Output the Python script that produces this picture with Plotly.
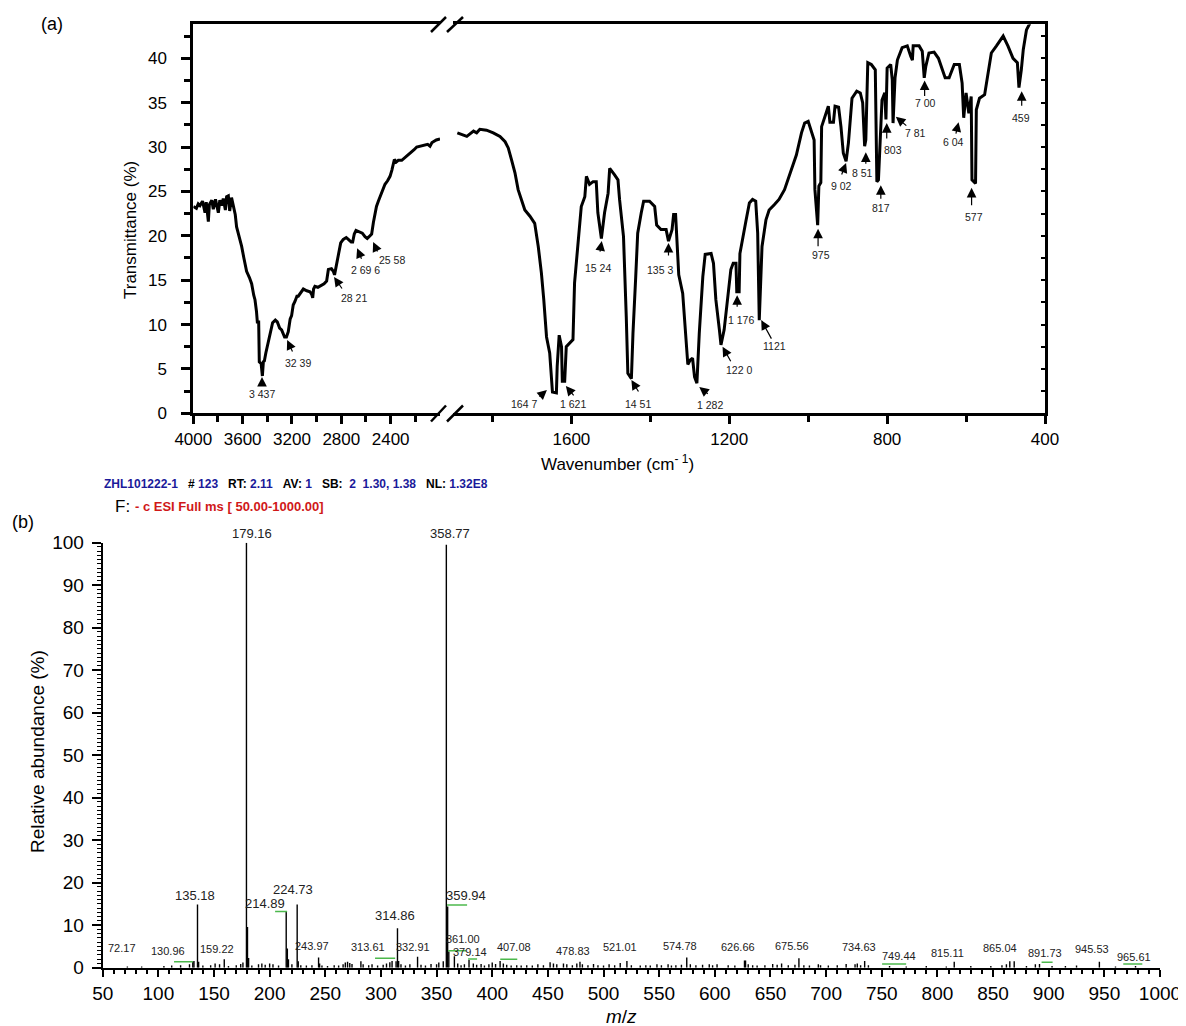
import plotly.graph_objects as go

# ---------------- Panel (a): FT-IR spectrum ----------------
ir_left_wn = [4000, 3975, 3960, 3946, 3925, 3905, 3895, 3878, 3870, 3850, 3838, 3820, 3797, 3785, 3770,
              3757, 3740, 3730, 3716, 3705, 3690, 3676, 3660, 3649, 3635, 3620, 3608, 3590, 3568, 3545,
              3527, 3510, 3500, 3488, 3481, 3470, 3465, 3450, 3440, 3432, 3424, 3412, 3400, 3384, 3370,
              3357, 3335, 3319, 3300, 3284, 3260, 3245, 3230, 3215, 3203, 3190, 3176, 3160, 3149, 3130,
              3108, 3080, 3054, 3040, 3032, 3025, 3014, 2990, 2959, 2940, 2919, 2910, 2905, 2880, 2865,
              2855, 2845, 2832, 2818, 2805, 2784, 2760, 2743, 2720, 2708, 2695, 2681, 2665, 2649, 2630,
              2608, 2590, 2575, 2554, 2540, 2527, 2515, 2500, 2488, 2473, 2460, 2446, 2425, 2405, 2390,
              2378, 2370, 2355, 2338, 2310, 2284, 2260, 2230, 2210, 2189, 2160, 2122, 2100, 2081, 2065,
              2054, 2030, 2000]
ir_left_t = [23.3, 23.1, 23.6, 23.4, 23.9, 22.6, 23.8, 21.6, 23.5, 24.0, 23.0, 24.1, 22.6, 24.0, 23.4,
             24.2, 22.9, 24.4, 24.5, 22.8, 24.3, 23.5, 22.4, 21.0, 20.3, 19.5, 18.8, 17.5, 16.0, 15.3,
             14.6, 13.3, 12.8, 11.5, 10.3, 10.3, 5.8, 5.6, 4.2, 5.8, 5.9, 6.8, 7.5, 8.6, 9.2,
             10.2, 10.5, 10.3, 9.6, 9.4, 8.6, 8.6, 9.2, 10.6, 11.0, 12.2, 12.6, 13.2, 13.2, 13.6,
             14.0, 13.8, 13.7, 13.4, 13.0, 14.0, 14.3, 14.2, 14.4, 14.6, 14.9, 15.5, 16.2, 16.3, 16.0,
             15.6, 16.3, 17.5, 18.6, 19.2, 19.6, 19.8, 19.6, 19.3, 19.3, 20.2, 20.6, 20.5, 20.4, 20.3,
             19.9, 19.7, 19.9, 20.2, 21.5, 22.7, 23.3, 23.9, 24.3, 24.9, 25.4, 25.8, 26.2, 26.7, 27.4,
             28.2, 28.6, 28.3, 28.5, 28.5, 28.8, 29.1, 29.4, 29.7, 30.0, 30.1, 30.2, 30.3, 30.1, 30.5,
             30.6, 30.8, 30.9]

ir_right_wn = [1889, 1878, 1865, 1848, 1840, 1832, 1815, 1798, 1781, 1768, 1760, 1752, 1743, 1735, 1726,
               1718, 1705, 1693, 1684, 1676, 1670, 1663, 1655, 1648, 1638, 1636, 1631, 1625, 1623, 1617,
               1613, 1604, 1596, 1592, 1583, 1575, 1566, 1562, 1554, 1545, 1537, 1533, 1524, 1516, 1507,
               1503, 1491, 1482, 1478, 1468, 1461, 1457, 1448, 1444, 1437, 1432, 1423, 1417, 1402, 1389,
               1384, 1373, 1360, 1354, 1345, 1341, 1336, 1333, 1328, 1318, 1311, 1305, 1299, 1293, 1288,
               1282, 1276, 1267, 1261, 1246, 1240, 1234, 1225, 1221, 1213, 1204, 1196, 1190, 1183, 1181,
               1175, 1173, 1166, 1158, 1149, 1141, 1133, 1128, 1124, 1117, 1107, 1099, 1086, 1074, 1060,
               1043, 1030, 1017, 1009, 1000, 991, 985, 983, 976, 973, 968, 966, 957, 949, 945,
               936, 932, 923, 917, 911, 904, 898, 889, 877, 868, 862, 857, 854, 849, 840,
               830, 826, 822, 813, 806, 803, 800, 791, 787, 785, 780, 774, 762, 749, 740,
               736, 734, 719, 711, 706, 702, 694, 681, 670, 660, 653, 643, 636, 630, 617,
               610, 606, 600, 593, 587, 585, 576, 574, 566, 553, 545, 536, 523, 506, 494,
               481, 470, 466, 460, 455, 447, 440, 430]
ir_right_t = [31.6, 31.4, 31.2, 31.8, 31.6, 32.0, 31.9, 31.6, 31.2, 30.6, 29.9, 28.6, 27.1, 25.2, 24.1,
              22.9, 22.2, 21.4, 18.8, 15.8, 12.8, 8.6, 6.8, 2.4, 2.3, 5.3, 8.8, 7.5, 3.6, 3.6,
              7.5, 7.9, 8.3, 14.7, 19.5, 23.3, 24.4, 26.7, 25.8, 26.1, 26.1, 22.6, 19.7, 22.6, 24.8,
              27.6, 26.9, 26.3, 24.1, 19.9, 10.9, 4.5, 3.9, 9.0, 15.4, 20.3, 22.6, 23.9, 23.9, 23.3,
              21.2, 20.7, 20.7, 19.4, 20.7, 22.4, 22.4, 19.5, 15.6, 13.5, 9.0, 5.5, 6.0, 6.2, 4.1,
              3.4, 9.0, 15.4, 17.9, 18.0, 16.9, 12.8, 9.4, 7.7, 9.4, 12.8, 16.2, 16.9, 16.9, 13.7,
              13.7, 18.0, 19.9, 21.6, 23.7, 24.1, 23.9, 20.3, 10.5, 18.8, 21.8, 22.9, 23.5, 24.1, 25.2,
              27.4, 29.1, 31.6, 32.7, 32.9, 31.6, 30.8, 25.2, 21.2, 25.6, 26.0, 32.3, 33.6, 34.6, 32.8,
              32.8, 34.6, 34.5, 32.3, 29.3, 28.4, 30.5, 35.5, 36.3, 36.1, 35.0, 30.1, 30.8, 39.5, 39.3,
              38.7, 26.1, 26.3, 35.3, 36.1, 33.1, 38.9, 39.3, 37.6, 32.7, 37.8, 39.8, 41.2, 41.4, 40.2,
              39.8, 41.4, 41.4, 40.8, 37.8, 39.1, 40.6, 40.7, 40.0, 38.7, 37.8, 37.8, 38.7, 39.3, 39.3,
              37.2, 33.3, 36.1, 33.8, 35.7, 26.3, 25.9, 34.2, 35.5, 35.9, 38.2, 40.6, 41.4, 42.5, 41.4,
              40.0, 39.5, 36.7, 38.7, 41.0, 43.2, 43.8, 45.0]

# peak labels (a): text, arrow-tip wavenumber, arrow-tip transmittance, segment
ir_peak_text = ["3 437", "32 39", "28 21", "2 69 6", "25 58",
                "164 7", "1 621", "14 51", "1 282", "15 24", "135 3", "1 176", "122 0", "1121",
                "975", "9 02", "8 51", "817", "803", "7 81", "7 00", "6 04", "577", "459"]
ir_peak_wn = [3443, 3239, 2859, 2672, 2542,
              1662, 1614, 1448, 1276, 1523, 1354, 1180, 1217, 1119,
              975, 904, 854, 816, 801, 778, 705, 619, 586, 459]
ir_peak_t = [4.09, 8.26, 15.36, 18.6, 19.3,
             2.63, 3.08, 3.75, 2.96, 19.4, 19.2, 13.3, 7.5, 10.5,
             20.8, 28.2, 29.4, 25.7, 32.7, 33.4, 37.5, 32.8, 25.4, 36.3]
ir_peak_seg = ["L"] * 5 + ["R"] * 19
# label-centre offsets (pixels, right/down) from the arrow tip
ir_text_dx = [0, 11, 20, 8, 19, -23, 7, 7, 11, -4, -8, 4, 16, 13, 3, -5, -3, 0, 6, 20, 1, -5, 2, -1]
ir_text_dy = [17, 23, 21, 22, 18, 14, 18, 24, 18, 27, 27, 25, 23, 26, 26, 23, 21, 23, 27, 16, 23, 20, 29, 27]
# arrow-tail offsets (pixels, right/down) from the arrow tip
ir_tail_dx = [0, 6, 9, 5, 5, -9, 9, 8, 10, -2, 0, 0, 9, 11, 0, -5, 0, 0, 0, 12, 0, -3, 0, 0]
ir_tail_dy = [10, 13, 13, 12, 11, 8, 11, 13, 8, 12, 14, 13, 16, 20, 19, 13, 13, 15, 17, 10, 17, 13, 19, 16]

# ---------------- Panel (b): ESI mass spectrum ----------------
ms_mz = [179.16, 180.1, 181.1, 358.77, 359.94, 361.0, 135.18, 136.2, 214.89, 215.9, 216.9, 224.73,
         225.7, 314.86, 315.9, 313.61, 332.91, 366.0, 243.97, 244.9, 159.22, 130.96, 132.0, 379.14,
         407.08, 574.78, 675.56, 626.66, 627.6, 521.01, 478.83, 734.63, 815.11, 865.04, 869.0, 945.53,
         891.73,
         72.17, 85, 105, 112, 120, 128, 140, 147, 151, 155, 163, 170, 174, 176, 184, 190, 193, 196,
         200, 203, 208, 220, 228, 233, 238, 247, 252, 258, 262, 266, 268, 270, 272, 274, 282, 284,
         289, 292, 297, 302, 305, 308, 310, 318, 322, 326, 336, 340, 345, 350, 352, 356, 369, 372,
         375, 383, 386, 390, 393, 397, 400, 403, 410, 413, 417, 422, 426, 431, 436, 441, 446, 452,
         455, 458, 464, 467, 472, 476, 481, 486, 491, 495, 500, 505, 510, 515, 525, 533, 538, 542,
         548, 552, 558, 561, 565, 570, 578, 583, 589, 595, 598, 602, 612, 618, 630, 634, 638, 645,
         652, 656, 660, 666, 672, 680, 685, 693, 695, 702, 710, 718, 726, 728, 731, 738, 757, 772,
         790, 808, 830, 848, 858, 862, 880, 888, 903, 915, 925, 960, 978]
ms_ab = [100.0, 9.6, 2.3, 99.5, 14.4, 3.8, 14.9, 1.4, 13.2, 4.5, 2.0, 14.9,
         1.5, 9.3, 1.6, 1.5, 2.6, 2.7, 2.4, 1.0, 2.0, 1.4, 1.6, 1.8,
         1.6, 2.4, 2.2, 1.7, 1.7, 1.6, 1.4, 1.6, 1.4, 1.5, 1.5, 1.4,
         0.9,
         0.3, 0.3, 0.4, 0.5, 0.6, 0.8, 0.5, 0.6, 1.0, 0.8, 0.4, 0.6, 0.9, 1.2, 0.5, 0.8, 1.0, 0.7,
         1.0, 0.8, 0.5, 0.8, 0.6, 0.5, 0.6, 0.5, 0.4, 0.6, 0.5, 0.8, 1.2, 1.4, 1.1, 0.9, 1.5, 0.8,
         0.6, 0.8, 0.5, 0.7, 1.0, 1.3, 1.6, 0.8, 0.5, 0.8, 0.7, 0.5, 0.9, 0.8, 1.2, 1.5, 1.0, 0.6,
         0.8, 1.0, 0.7, 0.9, 0.5, 0.8, 1.2, 0.9, 1.0, 0.7, 0.5, 0.6, 0.5, 0.6, 0.5, 0.8, 0.6, 1.3,
         1.0, 0.8, 1.0, 0.8, 0.6, 1.0, 0.8, 0.6, 0.9, 0.6, 0.5, 0.8, 0.6, 1.1, 0.6, 0.5, 0.6, 0.5,
         0.8, 0.6, 0.8, 0.5, 0.6, 0.7, 0.8, 0.6, 0.7, 0.8, 0.6, 0.8, 0.6, 0.5, 0.8, 0.6, 0.5, 0.6,
         0.9, 0.7, 1.0, 0.6, 0.7, 0.6, 0.5, 0.8, 0.6, 0.5, 0.6, 0.9, 0.8, 1.0, 0.6, 0.6, 0.4, 0.3,
         0.4, 0.3, 0.4, 0.4, 0.6, 0.8, 0.4, 0.8, 0.4, 0.4, 0.5, 0.3, 0.4]

ms_label_text = ["179.16", "358.77", "135.18", "214.89", "224.73", "314.86", "359.94", "361.00",
                 "379.14", "72.17", "130.96", "159.22", "243.97", "313.61", "332.91", "407.08",
                 "478.83", "521.01", "574.78", "626.66", "675.56", "734.63", "749.44", "815.11",
                 "865.04", "891.73", "945.53", "965.61"]
# label centre positions (m/z, abundance)
ms_label_x = [183.9, 362.1, 132.9, 195.6, 220.7, 312.7, 376.5, 373.8, 379.8, 67.1, 108.4, 152.7,
              237.8, 288.4, 328.8, 419.3, 472.6, 515.1, 568.5, 620.6, 669.4, 729.4, 765.3, 809.0,
              856.6, 897.1, 939.1, 977.0]
ms_label_y = [102.2, 102.2, 17.1, 15.2, 18.5, 12.4, 17.1, 6.75, 3.76, 4.6, 3.9, 4.4, 5.2, 4.9,
              4.9, 4.9, 3.9, 4.9, 5.2, 4.8, 5.2, 4.8, 2.8, 3.5, 4.6, 3.4, 4.3, 2.6]
ms_label_big = ["179.16", "358.77", "135.18", "214.89", "224.73", "314.86", "359.94"]

# green marker segments (m/z start, m/z end, abundance)
ms_green_x0 = [114.1, 204.9, 294.7, 359.4, 360.3, 378.3, 407.2, 750.3, 893.6, 967.0]
ms_green_x1 = [131.1, 215.7, 312.8, 377.4, 376.5, 386.4, 422.5, 771.9, 903.5, 984.1]
ms_green_y = [1.41, 13.2, 2.2, 14.75, 4.0, 2.05, 1.98, 0.87, 1.27, 0.87]

# ---------------- Figure ----------------
OFF = 8  # page body margin
W, H = 1186 - OFF, 1026 - OFF
FONT = "Arial, 'Liberation Sans', sans-serif"


def px(x):
    return (x - OFF) / W


def py(y):
    return 1 - (y - OFF) / H


fig = go.Figure()

fig.add_trace(go.Scatter(x=ir_left_wn, y=ir_left_t, xaxis="x", yaxis="y", mode="lines",
                         line=dict(color="black", width=3), hoverinfo="skip"))
fig.add_trace(go.Scatter(x=ir_right_wn, y=ir_right_t, xaxis="x2", yaxis="y2", mode="lines",
                         line=dict(color="black", width=3), hoverinfo="skip"))

stick_x, stick_y = [], []
for m, a in zip(ms_mz, ms_ab):
    stick_x += [m, m, None]
    stick_y += [0, a, None]
fig.add_trace(go.Scatter(x=stick_x, y=stick_y, xaxis="x3", yaxis="y3", mode="lines",
                         line=dict(color="black", width=1.4), hoverinfo="skip"))

dom_a_y = [py(413.3), py(24.3)]
yr_a = [0, 43.83]
axis_common = dict(showgrid=False, zeroline=False, linecolor="black", tickcolor="black",
                   automargin=False)

fig.update_layout(
    width=W, height=H, margin=dict(l=0, r=0, t=0, b=0, autoexpand=False),
    paper_bgcolor="white", plot_bgcolor="white", showlegend=False,
    font=dict(family=FONT, color="black"),
    xaxis=dict(domain=[px(193.3), px(440)], range=[4000, 2000], anchor="y",
               tickmode="array", tickvals=[4000, 3600, 3200, 2800, 2400],
               ticks="outside", ticklen=8, tickwidth=2.5, showline=True, linewidth=3, mirror=True,
               tickfont=dict(size=17), minor=dict(tickmode="array", tickvals=[3800, 3400, 3000, 2600, 2200],
                                                   ticks="outside", ticklen=6, tickwidth=2.5),
               **axis_common),
    yaxis=dict(domain=dom_a_y, range=yr_a, anchor="x", tickmode="array",
               tickvals=[0, 5, 10, 15, 20, 25, 30, 35, 40], ticks="outside", ticklen=9, tickwidth=2.5,
               showline=True, linewidth=3, tickfont=dict(size=17), ticklabelstandoff=11,
               minor=dict(tickmode="array", tickvals=[2.5, 7.5, 12.5, 17.5, 22.5, 27.5, 32.5, 37.5, 42.5],
                          ticks="outside", ticklen=6, tickwidth=2.5),
               **axis_common),
    xaxis2=dict(domain=[px(453), px(1045)], range=[1900, 400], anchor="y2",
                tickmode="array", tickvals=[1600, 1200, 800, 400],
                ticks="outside", ticklen=8, tickwidth=2.5, showline=True, linewidth=3, mirror=True,
                tickfont=dict(size=17), minor=dict(tickmode="array", tickvals=[1800, 1400, 1000, 600],
                                                    ticks="outside", ticklen=6, tickwidth=2.5),
                **axis_common),
    yaxis2=dict(domain=dom_a_y, range=yr_a, anchor="x2", side="right", showline=True, linewidth=3,
                tickmode="array", tickvals=[2.5 * i for i in range(18)], ticks="inside", ticklen=4,
                tickwidth=2, showticklabels=False, **axis_common),
    xaxis3=dict(domain=[px(102.7), px(1160)], range=[50, 1000], anchor="y3",
                tickmode="linear", tick0=50, dtick=50, ticks="outside", ticklen=7, tickwidth=1.5,
                showline=True, linewidth=2, tickfont=dict(size=19),
                minor=dict(tick0=50, dtick=10, ticks="outside", ticklen=4, tickwidth=1.5),
                **axis_common),
    yaxis3=dict(domain=[py(967.7), py(542.7)], range=[0, 100], anchor="x3",
                tickmode="linear", tick0=0, dtick=10, ticks="outside", ticklen=9, tickwidth=1.5,
                showline=True, linewidth=2, tickfont=dict(size=19), ticklabelstandoff=4,
                minor=dict(dtick=1, ticks="outside", ticklen=4, tickwidth=1),
                **axis_common),
)

ann = []
# panel (a) peak labels and arrows
for i, t in enumerate(ir_peak_text):
    xr, yr = ("x", "y") if ir_peak_seg[i] == "L" else ("x2", "y2")
    ann.append(dict(x=ir_peak_wn[i], y=ir_peak_t[i], xref=xr, yref=yr, text="", showarrow=True,
                    ax=ir_tail_dx[i], ay=ir_tail_dy[i], arrowhead=2, arrowsize=1.6, arrowwidth=1.2,
                    arrowcolor="black"))
    ann.append(dict(x=ir_peak_wn[i], y=ir_peak_t[i], xref=xr, yref=yr, text=t, showarrow=False,
                    xshift=ir_text_dx[i], yshift=-ir_text_dy[i], xanchor="center", yanchor="middle",
                    font=dict(size=10.5, color="#222")))
# panel (b) peak labels
for t, x, y in zip(ms_label_text, ms_label_x, ms_label_y):
    if y > 100:
        ann.append(dict(x=x, y=py(967.7 - y * 4.25), xref="x3", yref="paper", text=t, showarrow=False,
                        xanchor="center", yanchor="middle", font=dict(size=13, color="#222")))
    else:
        ann.append(dict(x=x, y=y, xref="x3", yref="y3", text=t, showarrow=False,
                        xanchor="center", yanchor="middle",
                        font=dict(size=13 if t in ms_label_big else 11, color="#222")))

# titles / panel letters
C = dict(xref="paper", yref="paper", showarrow=False, xanchor="center", yanchor="middle")
ann += [
    dict(x=px(52), y=py(24), text="(a)", font=dict(size=18), **C),
    dict(x=px(22.5), y=py(521.7), text="(b)", font=dict(size=18), **C),
    dict(x=px(130), y=py(230), text="Transmittance (%)", textangle=-90, font=dict(size=17), **C),
    dict(x=px(617.5), y=py(463.5), text="Wavenumber (cm<sup>- 1</sup>)", font=dict(size=17), **C),
    dict(x=px(37), y=py(752), text="Relative abundance (%)", textangle=-90, font=dict(size=19), **C),
    dict(x=px(621.7), y=py(1016), text="<i>m</i>/<i>z</i>", font=dict(size=19), **C),
]
# header of the mass spectrum
B = "#1a1a9a"
NB = "\u00a0"


def blue(s):
    return f"<span style='color:{B}'>{s}</span>"


hdr = ("<b>" + blue("ZHL101222-1") + NB * 3 + "#" + NB + blue("123") + NB * 3 + "RT:" + NB + blue("2.11")
       + NB * 3 + "AV:" + NB + blue("1") + NB * 3 + "SB:" + NB * 2 + blue("2" + NB * 2 + "1.30," + NB + "1.38")
       + NB * 3 + "NL:" + NB + blue("1.32E8") + "</b>")
L = dict(xref="paper", yref="paper", showarrow=False, xanchor="left", yanchor="middle")
ann += [
    dict(x=px(101.7), y=py(484), text=hdr, font=dict(size=12, color="black"), **L),
    dict(x=px(112.5), y=py(506), text="F:", font=dict(size=17, color="black"), **L),
    dict(x=px(132.7), y=py(506), text="<b>- c ESI Full ms [ 50.00-1000.00]</b>",
         font=dict(size=13, color="#d01818"), **L),
]
fig.update_layout(annotations=ann)

shapes = []
# axis-break marks
for (x0, y0, x1, y1) in [(431, 32, 446, 17), (447, 32, 463, 17), (431, 421.5, 446, 405.5), (447, 421.5, 463, 405.5)]:
    shapes.append(dict(type="line", xref="paper", yref="paper", x0=px(x0), y0=py(y0), x1=px(x1), y1=py(y1),
                       line=dict(color="black", width=2.5)))
# green segments in mass spectrum
for x0, x1, y in zip(ms_green_x0, ms_green_x1, ms_green_y):
    shapes.append(dict(type="line", xref="x3", yref="y3", x0=x0, x1=x1, y0=y, y1=y,
                       line=dict(color="#4cb84c", width=1.5)))
fig.update_layout(shapes=shapes)

fig.write_html("out.html")
